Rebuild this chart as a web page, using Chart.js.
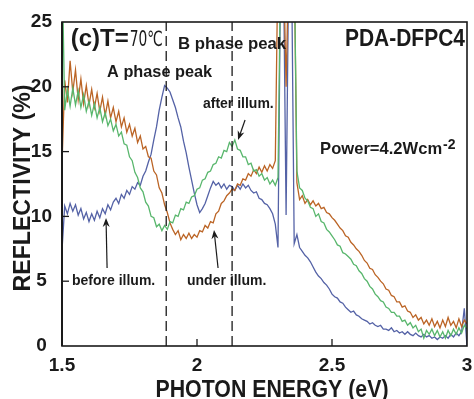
<!DOCTYPE html>
<html>
<head>
<meta charset="utf-8">
<script src="https://cdn.jsdelivr.net/npm/chart.js@4.4.1/dist/chart.umd.min.js"></script>
<style>
  html, body { margin: 0; padding: 0; background: #fff; }
  canvas { display: block; }
</style>
</head>
<body>
<canvas id="chart" width="474" height="399"></canvas>
<script>
// photon energy grid (eV)
const ENERGY = [
  1.50, 1.51, 1.52, 1.53, 1.54, 1.55, 1.56, 1.57, 1.58, 1.59,
  1.60, 1.61, 1.62, 1.63, 1.64, 1.65, 1.66, 1.67, 1.68, 1.69,
  1.70, 1.71, 1.72, 1.73, 1.74, 1.75, 1.76, 1.77, 1.78, 1.79,
  1.80, 1.81, 1.82, 1.83, 1.84, 1.85, 1.86, 1.87, 1.88, 1.89,
  1.90, 1.91, 1.92, 1.93, 1.94, 1.95, 1.96, 1.97, 1.98, 1.99,
  2.00, 2.01, 2.02, 2.03, 2.04, 2.05, 2.06, 2.07, 2.08, 2.09,
  2.10, 2.11, 2.12, 2.13, 2.14, 2.15, 2.16, 2.17, 2.18, 2.19,
  2.20, 2.21, 2.22, 2.23, 2.24, 2.25, 2.26, 2.27, 2.28, 2.29,
  2.30, 2.31, 2.32, 2.33, 2.34, 2.35, 2.36, 2.37, 2.38, 2.39,
  2.40, 2.41, 2.42, 2.43, 2.44, 2.45, 2.46, 2.47, 2.48, 2.49,
  2.50, 2.51, 2.52, 2.53, 2.54, 2.55, 2.56, 2.57, 2.58, 2.59,
  2.60, 2.61, 2.62, 2.63, 2.64, 2.65, 2.66, 2.67, 2.68, 2.69,
  2.70, 2.71, 2.72, 2.73, 2.74, 2.75, 2.76, 2.77, 2.78, 2.79,
  2.80, 2.81, 2.82, 2.83, 2.84, 2.85, 2.86, 2.87, 2.88, 2.89,
  2.90, 2.91, 2.92, 2.93, 2.94, 2.95, 2.96, 2.97, 2.98, 2.99,
  3.00
]

// reflectivity (%) before illumination
const BEFORE = [
  7.4, 10.8, 10.2, 11.0, 10.4, 10.9, 10.1, 10.6, 9.8, 10.3,
  9.6, 10.2, 9.7, 10.4, 9.9, 10.6, 10.2, 10.9, 10.5, 11.1,
  11.4, 11.0, 11.7, 11.4, 12.0, 11.7, 12.3, 12.1, 12.6, 12.4,
  13.1, 13.5, 14.2, 14.8, 15.9, 16.9, 18.2, 19.2, 20.1, 19.9,
  19.6, 19.0, 18.4, 17.6, 16.9, 15.8, 14.9, 13.8, 12.8, 11.8,
  10.9, 10.3, 10.6, 11.0, 11.6, 12.2, 12.7, 12.4, 12.6, 12.2,
  12.5, 12.1, 12.4, 12.3, 12.0, 12.4, 12.1, 12.5, 12.2, 12.4,
  12.0, 11.8, 11.9, 11.4, 11.3, 11.0, 10.9, 10.6, 10.2, 9.4,
  7.6, 30, 30, 10.1, 30, 30, 7.9, 8.6, 7.6, 7.3,
  7.0, 6.8, 6.5, 6.1, 5.7, 5.4, 5.2, 4.9, 4.7, 4.4,
  4.0, 3.8, 3.7, 3.4, 3.3, 3.0, 2.8, 2.6, 2.7, 2.4,
  2.3, 2.1, 2.0, 1.9, 1.7, 1.8, 1.6, 1.5, 1.6, 1.3,
  1.3, 1.2, 1.4, 1.1, 1.2, 1.0, 1.1, 0.9, 1.1, 0.9,
  0.8, 1.0, 0.8, 0.7, 0.9, 0.7, 0.8, 0.6, 0.7, 0.5,
  0.7, 0.6, 0.8, 0.6, 0.9, 0.7, 1.0, 0.8, 1.1, 2.9,
  0.0
]

// reflectivity (%) under illumination
const UNDER = [
  14.0, 20.5, 18.8, 22.0, 19.6, 21.3, 19.0, 20.6, 18.7, 20.1,
  18.6, 19.8, 18.4, 19.5, 18.1, 19.2, 17.8, 18.9, 17.6, 18.4,
  17.3, 18.1, 16.9, 17.6, 16.5, 17.1, 16.2, 16.8, 15.7, 16.2,
  15.2, 15.4, 14.6, 14.5, 13.5, 13.2, 12.2, 11.8, 10.9, 10.3,
  9.5, 9.0, 8.6, 8.9, 8.2, 8.6, 8.3, 8.7, 8.3, 8.6,
  8.4, 8.9, 8.8, 9.3, 9.1, 9.6, 9.5, 10.2, 10.4, 11.0,
  11.2, 11.6, 11.8, 12.1, 12.0, 12.5, 12.4, 12.9, 12.8, 13.3,
  13.1, 13.6, 13.3, 13.8, 13.4, 13.9, 13.5, 14.0, 13.7, 14.3,
  30, 30, 30, 20, 30, 30, 30, 12.6, 11.3, 11.6,
  11.0, 11.3, 10.9, 11.2, 10.8, 11.0, 10.6, 10.7, 10.3, 10.2,
  9.9, 9.7, 9.4, 9.1, 8.9, 8.5, 8.4, 8.0, 7.8, 7.5,
  7.3, 7.0, 6.6, 6.4, 6.0, 5.9, 5.5, 5.3, 5.0, 4.8,
  4.4, 4.3, 3.9, 3.8, 3.4, 3.4, 3.0, 3.1, 2.7, 2.6,
  2.2, 2.4, 2.0, 2.2, 1.7, 2.0, 1.6, 2.1, 1.5, 1.9,
  1.4, 2.0, 1.5, 2.2, 1.6, 1.9, 1.4, 2.1, 1.5, 2.0,
  1.7
]

// reflectivity (%) after illumination
const AFTER = [
  30, 18.2, 19.8, 18.5, 19.9, 18.6, 19.7, 18.4, 19.4, 18.1,
  18.9, 17.8, 18.7, 17.6, 18.4, 17.3, 18.0, 17.0, 17.5, 16.6,
  17.1, 16.2, 16.5, 15.6, 15.5, 14.6, 14.3, 13.4, 13.0, 12.2,
  11.9, 11.1, 10.8, 10.0, 9.9, 9.2, 9.4, 8.9, 9.3, 9.0,
  9.6, 9.5, 10.1, 10.0, 10.6, 10.5, 11.1, 11.0, 11.5, 11.6,
  12.1, 12.2, 12.8, 12.9, 13.4, 13.5, 14.0, 14.1, 14.6, 14.5,
  15.1, 15.0, 15.7, 15.4, 15.9, 15.2, 15.1, 14.6, 14.6, 14.0,
  14.1, 13.5, 13.6, 13.1, 13.3, 12.8, 13.0, 12.5, 12.8, 12.4,
  13.0, 30, 30, 30, 30, 30, 30, 13.5, 12.2, 12.0,
  11.4, 11.2, 10.7, 10.6, 10.0, 10.2, 9.6, 9.5, 9.0, 8.8,
  8.5, 8.2, 7.8, 7.7, 7.2, 7.1, 6.9, 6.7, 6.3, 6.2,
  5.8, 5.6, 5.2, 5.0, 4.6, 4.4, 4.0, 3.8, 3.5, 3.4,
  3.0, 2.9, 2.6, 2.6, 2.3, 2.3, 1.9, 2.0, 1.6, 1.8,
  1.4, 1.6, 1.1, 1.3, 0.6, 1.2, 0.9, 1.3, 0.8, 1.2,
  0.7, 1.1, 0.6, 1.2, 0.8, 1.3, 0.9, 1.4, 1.0, 1.6,
  1.3
]

const X_TICKS = [1.5, 2, 2.5, 3]
const Y_TICKS = [0, 5, 10, 15, 20, 25]
const PHASE_PEAKS = [1.886, 2.13]

const BLUE = '#5462a6'
const ORANGE = '#bb6425'
const GREEN = '#58b66c'
const FONT = '"Liberation Sans", Arial, sans-serif'

const toPoints = values => ENERGY.map((x, i) => ({ x, y: values[i] }))

// text labels placed in data coordinates (left edge, baseline)
const notes = [
  { text: 'PDA-DFPC4', x: 2.548, y: 23.15, font: `bold 23px ${FONT}`, max: 120 },
  { text: 'B phase peak', x: 1.93, y: 22.88, font: `bold 17px ${FONT}`, max: 108 },
  { text: 'A phase peak', x: 1.667, y: 20.73, font: `bold 17px ${FONT}`, max: 105 },
  { text: 'after illum.', x: 2.022, y: 18.36, font: `bold 14px ${FONT}`, max: 72 },
  { text: 'Power=4.2Wcm', x: 2.456, y: 14.81, font: `bold 17px ${FONT}`, max: 122 },
  { text: 'before illum.', x: 1.537, y: 4.71, font: `bold 14px ${FONT}`, max: 85 },
  { text: 'under illum.', x: 1.963, y: 4.71, font: `bold 14px ${FONT}`, max: 80 }
]

const arrows = [
  { from: [2.178, 17.44], to: [2.152, 15.9] },
  { from: [1.667, 6.02], to: [1.663, 9.88] },
  { from: [2.078, 6.02], to: [2.063, 8.95] }
]

const drawArrow = (ctx, x0, y0, x1, y1) => {
  const ang = Math.atan2(y1 - y0, x1 - x0)
  const len = 9
  const half = 3.5
  ctx.beginPath()
  ctx.moveTo(x0, y0)
  ctx.lineTo(x1 - Math.cos(ang) * len * 0.7, y1 - Math.sin(ang) * len * 0.7)
  ctx.stroke()
  ctx.beginPath()
  ctx.moveTo(x1, y1)
  ctx.lineTo(x1 - Math.cos(ang) * len + Math.sin(ang) * half, y1 - Math.sin(ang) * len - Math.cos(ang) * half)
  ctx.lineTo(x1 - Math.cos(ang) * len * 0.7, y1 - Math.sin(ang) * len * 0.7)
  ctx.lineTo(x1 - Math.cos(ang) * len - Math.sin(ang) * half, y1 - Math.sin(ang) * len + Math.cos(ang) * half)
  ctx.closePath()
  ctx.fill()
}

const decorations = {
  id: 'decorations',
  afterDatasetsDraw (chart) {
    const { ctx, chartArea: a, scales: { x, y } } = chart
    ctx.save()
    ctx.strokeStyle = '#1a1a1a'
    ctx.fillStyle = '#1a1a1a'

    // dashed markers for the phase peaks
    ctx.setLineDash([10, 5])
    ctx.lineWidth = 1.3
    PHASE_PEAKS.forEach(e => {
      const px = x.getPixelForValue(e)
      ctx.beginPath()
      ctx.moveTo(px, a.bottom)
      ctx.lineTo(px, a.top)
      ctx.stroke()
    })
    ctx.setLineDash([])

    // frame
    ctx.lineWidth = 1.6
    ctx.strokeRect(a.left, a.top, a.right - a.left, a.bottom - a.top)
    ctx.lineWidth = 2
    ctx.beginPath()
    ctx.moveTo(a.left, a.top)
    ctx.lineTo(a.left, a.bottom)
    ctx.stroke()

    // inward ticks
    ctx.lineWidth = 1.3
    Y_TICKS.slice(1, -1).forEach(v => {
      const py = y.getPixelForValue(v)
      ctx.beginPath()
      ctx.moveTo(a.left, py)
      ctx.lineTo(a.left + 7, py)
      ctx.stroke()
    })
    X_TICKS.slice(1, -1).forEach(v => {
      const px = x.getPixelForValue(v)
      ctx.beginPath()
      ctx.moveTo(px, a.bottom)
      ctx.lineTo(px, a.bottom - 7)
      ctx.stroke()
    })

    // annotations
    ctx.textBaseline = 'alphabetic'
    ctx.textAlign = 'left'
    // panel label: bold "(c)T=" followed by plain "70℃"
    const tx = x.getPixelForValue(1.532)
    const ty = y.getPixelForValue(23.15)
    ctx.font = `bold 24px ${FONT}`
    ctx.fillText('(c)T=', tx, ty)
    const tw = ctx.measureText('(c)T=').width
    ctx.font = '21px "DejaVu Sans", sans-serif'
    ctx.fillText('70℃', tx + tw + 1, ty, 33)

    notes.forEach(n => {
      ctx.font = n.font
      ctx.fillText(n.text, x.getPixelForValue(n.x), y.getPixelForValue(n.y), n.max)
    })
    // superscript of the power density
    ctx.font = `bold 14px ${FONT}`
    ctx.fillText('-2', x.getPixelForValue(2.456) + 123, y.getPixelForValue(14.81) - 5, 16)

    ctx.lineWidth = 1.2
    arrows.forEach(ar => {
      drawArrow(ctx,
        x.getPixelForValue(ar.from[0]), y.getPixelForValue(ar.from[1]),
        x.getPixelForValue(ar.to[0]), y.getPixelForValue(ar.to[1]))
    })

    // axis titles
    ctx.font = `bold 24px ${FONT}`
    ctx.textAlign = 'center'
    ctx.fillText('PHOTON ENERGY (eV)', 272, 397, 233)
    ctx.translate(30, (a.top + a.bottom) / 2 + 4)
    ctx.rotate(-Math.PI / 2)
    ctx.fillText('REFLECTIVITY (%)', 0, 0, 207)
    ctx.restore()
  }
}

const tickFont = { family: FONT, size: 19, weight: 'bold' }

new Chart(document.getElementById('chart'), {
  type: 'line',
  data: {
    datasets: [
      { label: 'after illum.', data: toPoints(AFTER), borderColor: GREEN },
      { label: 'under illum.', data: toPoints(UNDER), borderColor: ORANGE },
      { label: 'before illum.', data: toPoints(BEFORE), borderColor: BLUE }
    ]
  },
  options: {
    responsive: false,
    animation: false,
    devicePixelRatio: 1,
    layout: { padding: { top: 22, right: 7, left: 0, bottom: 0 } },
    elements: {
      point: { radius: 0 },
      line: { borderWidth: 1.3, tension: 0, fill: false }
    },
    plugins: { legend: { display: false }, tooltip: { enabled: false } },
    scales: {
      x: {
        type: 'linear',
        min: 1.5,
        max: 3,
        grid: { display: false },
        border: { display: false },
        afterBuildTicks: axis => { axis.ticks = X_TICKS.map(value => ({ value })) },
        afterFit: axis => { axis.height = 53 },
        ticks: {
          font: tickFont,
          color: '#1a1a1a',
          padding: 0,
          maxRotation: 0,
          autoSkip: false,
          callback: value => String(value)
        }
      },
      y: {
        min: 0,
        max: 25,
        grid: { display: false },
        border: { display: false },
        afterBuildTicks: axis => { axis.ticks = Y_TICKS.map(value => ({ value })) },
        afterFit: axis => { axis.width = 62 },
        ticks: { font: tickFont, color: '#1a1a1a', padding: 2, crossAlign: 'center' }
      }
    }
  },
  plugins: [decorations]
})
</script>
</body>
</html>
